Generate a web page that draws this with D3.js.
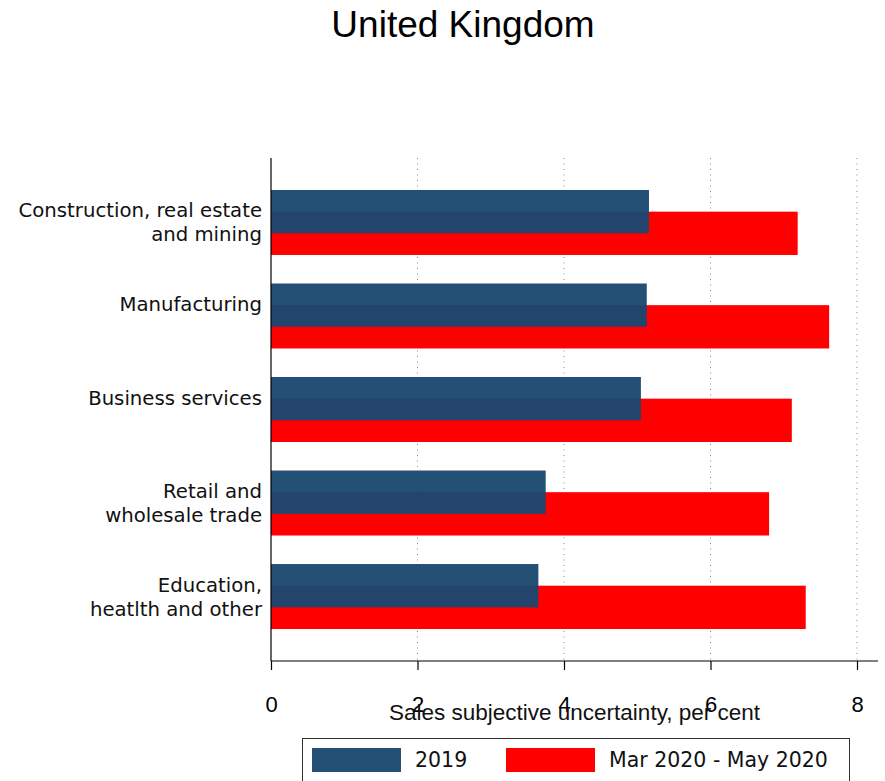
<!DOCTYPE html>
<html>
<head>
<meta charset="utf-8">
<script src="https://cdn.jsdelivr.net/npm/d3@7"></script>
<style>
  html, body { margin: 0; padding: 0; background: #fff; }
  svg { display: block; }
</style>
</head>
<body>
<div id="chart"></div>
<script>
// ---- data ----
const categories = [
  ["Construction, real estate", "and mining"],
  ["Manufacturing"],
  ["Business services"],
  ["Retail and", "wholesale trade"],
  ["Education,", "heatlth and other"]
];
const seriesNames = ["2019", "Mar 2020 - May 2020"];
const values2019 = [5.16, 5.13, 5.05, 3.75, 3.65];
const valuesCovid = [7.19, 7.62, 7.11, 6.80, 7.30];
const xTicks = [0, 2, 4, 6, 8];
const titleText = "United Kingdom";
const xTitle = "Sales subjective uncertainty, per cent";

// ---- layout ----
const W = 885, H = 781;
const colors = { blue: "rgb(26,72,112)", red: "#ff0000" };
const sansA = "'Liberation Sans', Arial, sans-serif";
const sansD = "'DejaVu Sans', sans-serif";

const svg = d3.select("#chart").append("svg")
  .attr("width", W).attr("height", H);

const catKeys = categories.map((c, i) => "c" + i);
const x = d3.scaleLinear().domain([0, 8]).range([271, 857]);
const y = d3.scaleBand().domain(catKeys).range([158, 661])
  .paddingInner(0.305).paddingOuter(0.342);
const bw = y.bandwidth();
const barH = bw / 1.5;

// title
svg.append("text")
  .attr("x", 463).attr("y", 37)
  .attr("text-anchor", "middle")
  .style("font-family", sansA).style("font-size", "37px")
  .attr("fill", "#000")
  .text(titleText);

// gridlines
svg.append("g").selectAll("line")
  .data(xTicks.filter(d => d > 0))
  .join("line")
  .attr("x1", d => x(d)).attr("x2", d => x(d))
  .attr("y1", 158).attr("y2", 661)
  .attr("stroke", "#8a8a8a").attr("stroke-width", 1)
  .attr("stroke-dasharray", "1,4.5");

// red bars (below)
svg.append("g").selectAll("rect")
  .data(valuesCovid)
  .join("rect")
  .attr("x", x(0))
  .attr("y", (d, i) => y(catKeys[i]) + bw / 3)
  .attr("width", d => x(d) - x(0))
  .attr("height", barH)
  .attr("fill", colors.red);

// blue bars (on top, slightly transparent)
svg.append("g").selectAll("rect")
  .data(values2019)
  .join("rect")
  .attr("x", x(0))
  .attr("y", (d, i) => y(catKeys[i]))
  .attr("width", d => x(d) - x(0))
  .attr("height", barH)
  .attr("fill", colors.blue)
  .attr("fill-opacity", 0.955);

// category labels
const lab = svg.append("g");
categories.forEach((lines, i) => {
  const c = y(catKeys[i]) + bw / 2;
  const t = lab.append("text")
    .attr("text-anchor", "end")
    .style("font-family", sansD).style("font-size", "19.7px")
    .attr("fill", "#111");
  lines.forEach((ln, j) => {
    t.append("tspan").attr("x", 262).attr("y", c - 5 + 24 * j).text(ln);
  });
});

// y axis line
svg.append("line")
  .attr("x1", 271).attr("x2", 271).attr("y1", 158).attr("y2", 661)
  .attr("stroke", "#000").attr("stroke-width", 1.2);

// x axis
const xAxis = d3.axisBottom(x).tickValues(xTicks).tickSize(9).tickSizeOuter(0)
  .tickFormat(d3.format("d"));
const gx = svg.append("g").attr("transform", "translate(0,661)").call(xAxis);
gx.select(".domain").remove();
gx.selectAll(".tick line").attr("stroke", "#000").attr("stroke-width", 1.2);
gx.selectAll(".tick text")
  .attr("y", 51).attr("dy", null)
  .style("font-family", sansA).style("font-size", "22px")
  .attr("fill", "#000");
svg.append("line")
  .attr("x1", 271).attr("x2", 878).attr("y1", 661).attr("y2", 661)
  .attr("stroke", "#000").attr("stroke-width", 1.2);

// x axis title
svg.append("text")
  .attr("x", 574.5).attr("y", 720)
  .attr("text-anchor", "middle")
  .style("font-family", sansA).style("font-size", "22.5px")
  .attr("fill", "#111")
  .text(xTitle);

// legend
const lg = svg.append("g");
lg.append("rect")
  .attr("x", 302.5).attr("y", 738.5).attr("width", 547).attr("height", 60)
  .attr("fill", "#fff").attr("stroke", "#333").attr("stroke-width", 1);
const legendItems = [
  { name: seriesNames[0], color: colors.blue, op: 0.955, sx: 312, tx: 415 },
  { name: seriesNames[1], color: colors.red, op: 1, sx: 506, tx: 609 }
];
legendItems.forEach(it => {
  lg.append("rect")
    .attr("x", it.sx).attr("y", 748).attr("width", 89).attr("height", 24)
    .attr("fill", it.color).attr("fill-opacity", it.op);
  lg.append("text")
    .attr("x", it.tx).attr("y", 767)
    .style("font-family", sansD).style("font-size", "20.5px")
    .attr("fill", "#111")
    .text(it.name);
});
</script>
</body>
</html>
